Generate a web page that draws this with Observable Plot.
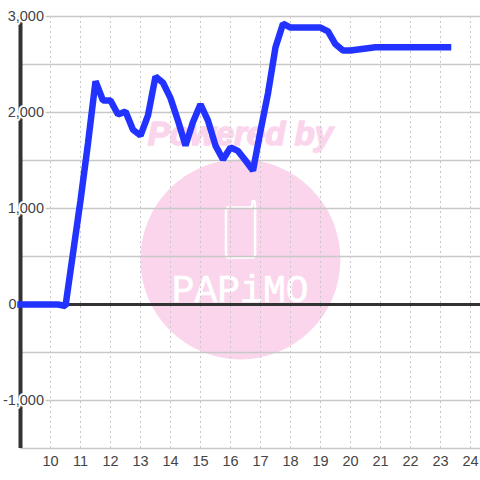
<!DOCTYPE html>
<html>
<head>
<meta charset="utf-8">
<script src="https://cdn.jsdelivr.net/npm/d3@7"></script>
<script src="https://cdn.jsdelivr.net/npm/@observablehq/plot@0.6"></script>
<style>
html,body{margin:0;padding:0;background:#fff}
svg{display:block}
</style>
</head>
<body>
<div id="chart"></div>
<script>
const hours = [9,10,10.25,10.5,11,11.25,11.5,11.75,12,12.25,12.5,12.75,13,13.25,13.5,13.75,14,14.25,14.5,14.75,15,15.25,15.5,15.75,16,16.25,16.5,16.75,17,17.25,17.5,17.75,18,18.25,18.5,18.75,19,19.25,19.5,19.75,20,20.83,21.5,22.5,23.25];
const values = [0,0,0,-15,1083,1680,2325,2125,2125,1980,2010,1820,1760,1970,2375,2310,2150,1915,1655,1900,2085,1915,1655,1510,1635,1600,1500,1395,1810,2200,2680,2925,2885,2885,2885,2885,2885,2845,2710,2645,2645,2680,2680,2680,2680];
const xTicks = [10,11,12,13,14,15,16,17,18,19,20,21,22,23,24];
const yGrid = [-1500,-1000,-500,0,500,1000,1500,2000,2500,3000];
const yLabels = [-1000,1000,2000,3000];
const logoCircle = [{x:16.33,y:470}];
const phoneX = [15.89,16.7,16.72,16.74,16.76,16.8,16.82,16.82,16.78,15.89,15.85,15.85,15.89];
const phoneY = [1010,1010,1040,1075,1080,1075,1040,520,490,490,520,980,1010];
const points = hours.map((x,i)=>({x,y:values[i]}));
const phone = phoneX.map((x,i)=>({x,y:phoneY[i]}));
const fmt = d => d3.format(",")(d).replace("−","-");
const font = "'Liberation Sans', Arial, sans-serif";

const chart = Plot.plot({
  width:480,height:480,
  marginLeft:20,marginRight:0,marginTop:16,marginBottom:32,
  style:{background:"#fff",fontFamily:font},
  x:{domain:[9,24.333],range:[20,480]},
  y:{domain:[-1500,3000],range:[448,16]},
  marks:[
    Plot.dot(logoCircle,{x:"x",y:"y",r:100,fill:"#fbd5ec",stroke:"none"}),
    Plot.text(["Powered by"],{x:()=>16.33,y:()=>1770,text:d=>d,fill:"#fbd5ec",stroke:"#fbd5ec",strokeWidth:1.5,fontSize:33,fontWeight:"bold",fontStyle:"italic",fontFamily:"'Liberation Sans'"}),
    Plot.line(phone,{x:"x",y:"y",stroke:"#fff",strokeWidth:2.5,strokeLinejoin:"round",strokeLinecap:"round"}),
    Plot.text(["PAPiMO"],{x:()=>16.32,y:()=>150,text:d=>d,fill:"#fff",stroke:"#fff",strokeWidth:0.6,fontSize:38,fontFamily:"'Liberation Mono'"}),
    Plot.ruleX(xTicks,{stroke:"#c8c8c8",strokeWidth:1,strokeDasharray:"2,3",y1:-1500,y2:3000}),
    Plot.ruleY(yGrid,{stroke:"#c8c8c8",strokeWidth:1.5}),
    Plot.ruleX([9],{stroke:"#333",strokeWidth:4,y1:-1500,y2:3000}),
    Plot.ruleY([0],{stroke:"#333",strokeWidth:3}),
    Plot.axisY(yLabels,{anchor:"left",tickSize:0,tickPadding:0,label:null,textAnchor:"end",dx:23.5,fontSize:14.5,fill:"#444",textStroke:"#fff",textStrokeWidth:4,tickFormat:fmt}),
    Plot.axisY([0],{anchor:"left",tickSize:0,tickPadding:4,label:null,fontSize:14.5,fill:"#444",tickFormat:fmt}),
    Plot.axisX(xTicks,{anchor:"bottom",tickSize:0,tickPadding:7,label:null,fontSize:14.5,fill:"#444",tickFormat:d=>String(d)}),
    Plot.line(points,{x:"x",y:"y",stroke:"#2233ff",strokeWidth:6.5,strokeLinejoin:"bevel",strokeLinecap:"square"})
  ]
});
document.getElementById("chart").appendChild(chart);
</script>
</body>
</html>
